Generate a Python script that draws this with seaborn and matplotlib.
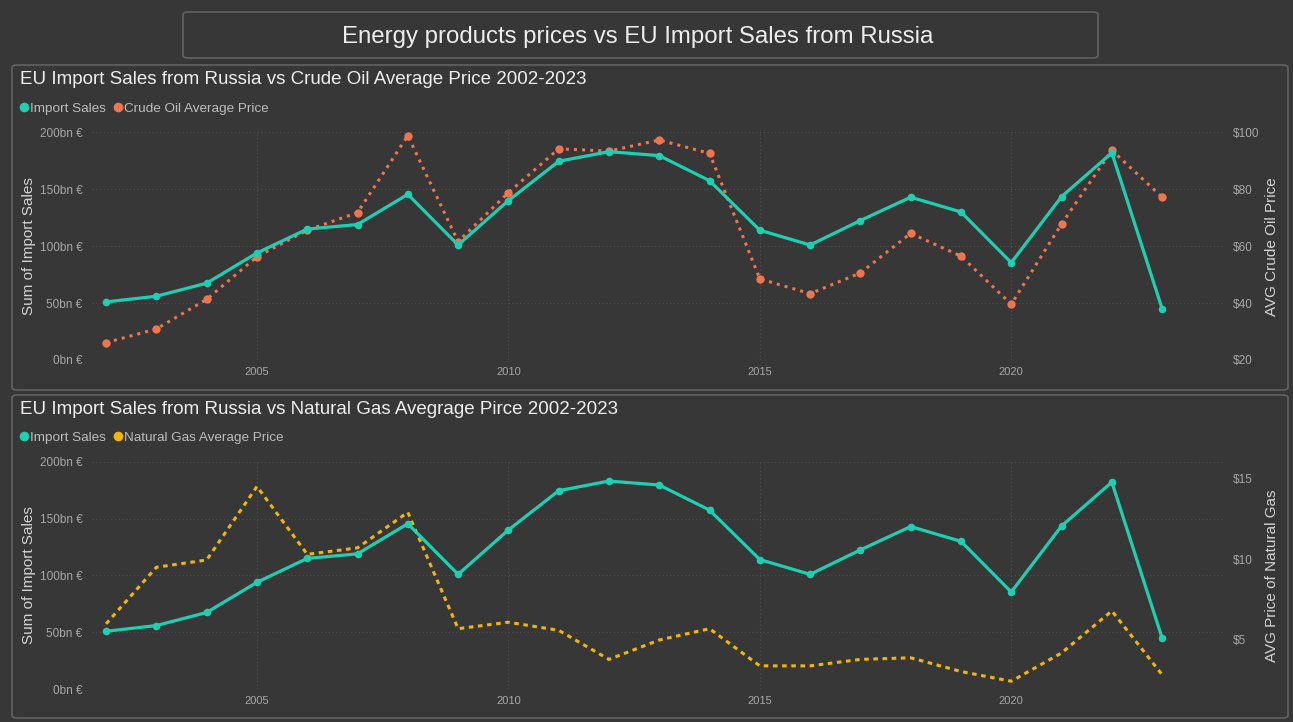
import pandas as pd
import seaborn as sns
import matplotlib.pyplot as plt
from matplotlib.lines import Line2D
from matplotlib.patches import FancyBboxPatch
from matplotlib.ticker import FuncFormatter

# Values (2002-2023)
years = list(range(2002, 2024))
import_sales = [51, 56, 67.5, 94, 115, 119, 145.5, 101, 140, 174.5, 183, 179.5,
                157.5, 114, 101, 122.5, 143, 130, 85.5, 143.5, 182, 45]
crude_oil = [26.1, 30.9, 41.3, 56.3, 65.6, 71.8, 98.8, 61.6, 78.8, 94.2, 93.4,
             97.3, 92.6, 48.5, 43.3, 50.6, 64.5, 56.5, 39.6, 67.8, 93.7, 77.2]
natural_gas = [6.0, 9.5, 9.95, 14.5, 10.3, 10.7, 12.9, 5.7, 6.1, 5.6, 3.8, 5.0,
               5.7, 3.4, 3.4, 3.8, 3.9, 3.05, 2.45, 4.2, 6.8, 2.85]

x_ticks = [2005, 2010, 2015, 2020]
sales_ticks = [0, 50, 100, 150, 200]
oil_ticks = [20, 40, 60, 80, 100]
gas_ticks = [5, 10, 15]

df = pd.DataFrame({'Year': years, 'Import Sales': import_sales,
                   'Crude Oil': crude_oil, 'Natural Gas': natural_gas})

# Colours
bg = '#373737'
border = '#626262'
teal = '#1ECFB2'
coral = '#EE7550'
gold = '#F2B50A'
tick_col = '#A8A8A8'
label_col = '#D4D4D4'
grid_col = '#4E4E4E'

sns.set_theme(style='dark', rc={'axes.facecolor': bg, 'figure.facecolor': bg})
plt.rcParams['font.family'] = ['Liberation Sans', 'DejaVu Sans']

fig = plt.figure(figsize=(12.93, 7.22), dpi=100)
W, H = 1293, 722


def fx(px):
    return px / W


def fy(py):
    return 1 - py / H


# Panel frames
for (x0, y0, x1, y1) in [(183, 12, 1098, 58), (12, 65, 1288, 390), (12, 395, 1288, 718)]:
    fig.patches.append(FancyBboxPatch((fx(x0), fy(y1)), fx(x1 - x0), (y1 - y0) / H,
                                      boxstyle='round,pad=0,rounding_size=0.004',
                                      transform=fig.transFigure, facecolor='none',
                                      edgecolor=border, linewidth=1.2))

fig.text(fx(638), fy(36.5), 'Energy products prices vs EU Import Sales from Russia',
         ha='center', va='center', fontsize=17.3, color='#EDEDED')


def make_panel(top_px, bottom_px, title, title_y, legend_y, price_col, price_label,
               price_color, price_style, price_marker, price_lim, price_ticks, price_fmt,
               ylabel_right):
    ax = fig.add_axes([fx(92), fy(bottom_px), fx(1225 - 92), (bottom_px - top_px) / H])
    ax.set_facecolor(bg)
    ax2 = ax.twinx()

    sns.lineplot(data=df, x='Year', y=price_col, ax=ax2, color=price_color,
                 linestyle=price_style, linewidth=2.2,
                 marker='o' if price_marker else None, markersize=6,
                 markeredgewidth=0)
    sns.lineplot(data=df, x='Year', y='Import Sales', ax=ax, color=teal,
                 linewidth=2.3, marker='o', markersize=5.5, markeredgewidth=0)
    ax.set_zorder(ax2.get_zorder() + 1)
    ax.patch.set_visible(False)
    ax2.patch.set_visible(True)
    ax2.patch.set_facecolor(bg)

    ax.set_xlim(2001.72, 2024.25)
    ax.set_ylim(0, 200)
    ax2.set_ylim(*price_lim)
    ax.set_xticks(x_ticks)
    ax.set_yticks(sales_ticks)
    ax2.set_yticks(price_ticks)
    ax.yaxis.set_major_formatter(FuncFormatter(lambda v, p: f'{v:.0f}bn €'))
    ax2.yaxis.set_major_formatter(FuncFormatter(price_fmt))

    # dotted grid drawn on the back axes so lines sit on top
    for v in sales_ticks:
        ax2.axhline(price_lim[0] + (price_lim[1] - price_lim[0]) * v / 200,
                    color=grid_col, linestyle=(0, (1, 2)), linewidth=0.9, zorder=0)
    for v in x_ticks:
        ax2.axvline(v, color=grid_col, linestyle=(0, (1, 2)), linewidth=0.9, zorder=0)
    ax.grid(False)
    ax2.grid(False)

    ax.tick_params(axis='y', length=0, pad=7, labelsize=8.5, labelcolor=tick_col)
    ax.tick_params(axis='x', length=0, pad=5, labelsize=8, labelcolor=tick_col)
    ax2.tick_params(axis='y', length=0, pad=6, labelsize=8.5, labelcolor=tick_col)
    for a in (ax, ax2):
        for s in a.spines.values():
            s.set_visible(False)

    ax.set_xlabel('')
    ax.set_ylabel('Sum of Import Sales', fontsize=11, color=label_col)
    ax.yaxis.set_label_coords(-0.049, 0.5)
    ax2.set_ylabel(ylabel_right, fontsize=11, color=label_col)
    ax2.yaxis.set_label_coords(1.035, 0.5)

    fig.text(fx(20), fy(title_y), title, ha='left', va='center',
             fontsize=13.5, color='#EEEEEE')
    handles = [Line2D([], [], linestyle='none', marker='o', markersize=7,
                      markeredgewidth=0, color=teal),
               Line2D([], [], linestyle='none', marker='o', markersize=7,
                      markeredgewidth=0, color=price_color)]
    fig.legend(handles, ['Import Sales', price_label], loc='center left',
               bbox_to_anchor=(fx(12), fy(legend_y)), ncol=2, frameon=False,
               fontsize=9.7, labelcolor='#BDBDBD', handlelength=0.8,
               handletextpad=0.05, columnspacing=0.5, borderpad=0)
    return ax, ax2


make_panel(132.3, 360, 'EU Import Sales from Russia vs Crude Oil Average Price 2002-2023',
           79, 108.5, 'Crude Oil', 'Crude Oil Average Price', coral, ':', True,
           (20, 100), oil_ticks, lambda v, p: f'${v:.0f}', 'AVG Crude Oil Price')

make_panel(461.7, 689.3, 'EU Import Sales from Russia vs Natural Gas Avegrage Pirce 2002-2023',
           409, 437.5, 'Natural Gas', 'Natural Gas Average Price', gold, (0, (1.5, 1.5)), False,
           (1.95, 16.03), gas_ticks, lambda v, p: f'${v:.0f}', 'AVG Price of Natural Gas')

fig.savefig('out.png', dpi=100, facecolor=bg)
